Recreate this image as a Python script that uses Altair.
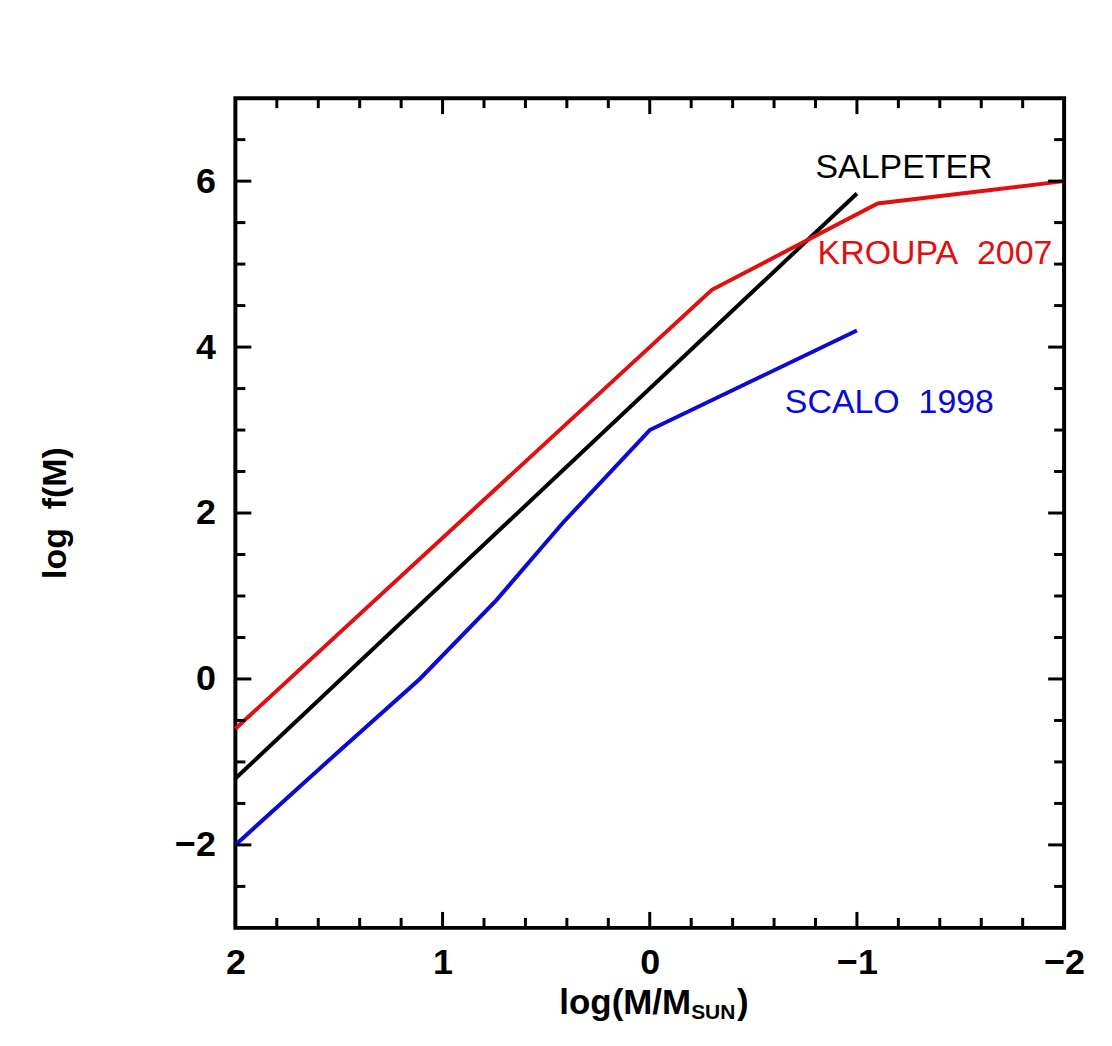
import altair as alt
import pandas as pd

# ---- data ----
salpeter_x = [2.0, -1.0]
salpeter_y = [-1.2, 5.85]

kroupa_x = [2.0, -0.3, -1.1, -2.0]
kroupa_y = [-0.6, 4.69, 5.73, 6.0]

scalo_x = [2.0, 1.5, 1.11, 0.74, 0.42, 0.0, -0.5, -1.0]
scalo_y = [-2.0, -0.87, 0.0, 0.95, 1.88, 3.0, 3.6, 4.2]

series_names = ["SALPETER", "KROUPA 2007", "SCALO 1998"]
series_colors = ["#000000", "#e01010", "#0a0ad0"]

label_text = ["SALPETER", "KROUPA\u00a0 2007", "SCALO\u00a0 1998"]
label_x = [-0.80, -0.81, -0.652]
label_y = [6.04, 5.0, 3.21]

x_labels = [2, 1, 0, -1, -2]
y_labels = [-2, 0, 2, 4, 6]
x_major = [1, 0, -1]
x_minor = [1.8, 1.6, 1.4, 1.2, 0.8, 0.6, 0.4, 0.2,
           -0.2, -0.4, -0.6, -0.8, -1.2, -1.4, -1.6, -1.8]
y_major = [-2, 0, 2, 4, 6]
y_minor = [-2.5, -1.5, -1, -0.5, 0.5, 1, 1.5, 2.5, 3, 3.5, 4.5, 5, 5.5, 6.5]

W, H = 831, 832
FONT = "Liberation Sans"

rows = []
for name, xs, ys in zip(series_names, [salpeter_x, kroupa_x, scalo_x],
                        [salpeter_y, kroupa_y, scalo_y]):
    for i, (a, b) in enumerate(zip(xs, ys)):
        rows.append({"series": name, "x": a, "y": b, "order": i})
lines_df = pd.DataFrame(rows)

xscale = alt.Scale(domain=[-2, 2], reverse=True, nice=False, zero=False)
yscale = alt.Scale(domain=[-3, 7], nice=False, zero=False)
cscale = alt.Scale(domain=series_names, range=series_colors)

xaxis = alt.Axis(values=x_labels, format="d", grid=False, ticks=False, domain=False,
                 labelFont=FONT, labelFontSize=36, labelFontWeight="bold",
                 labelColor="black", labelPadding=18, labelFlush=False,
                 labelOverlap=False, title=None)
yaxis = alt.Axis(values=y_labels, format="d", grid=False, ticks=False, domain=False,
                 labelFont=FONT, labelFontSize=36, labelFontWeight="bold",
                 labelColor="black", labelPadding=20, labelFlush=False,
                 labelOverlap=False, title=None)

lines = alt.Chart(lines_df).mark_line(strokeWidth=4).encode(
    x=alt.X("x:Q", scale=xscale, axis=xaxis),
    y=alt.Y("y:Q", scale=yscale, axis=yaxis),
    color=alt.Color("series:N", scale=cscale, legend=None),
    order="order:Q",
)

labels_df = pd.DataFrame({"t": label_text, "x": label_x, "y": label_y,
                          "series": series_names})
labels = alt.Chart(labels_df).mark_text(
    font=FONT, fontSize=34, align="left", baseline="alphabetic"
).encode(
    x=alt.X("x:Q", scale=xscale),
    y=alt.Y("y:Q", scale=yscale),
    text="t:N",
    color=alt.Color("series:N", scale=cscale, legend=None),
)

def xticks(vals, length):
    d = pd.DataFrame({"v": vals})
    bottom = alt.Chart(d).mark_rule(color="black", strokeWidth=3).encode(
        x=alt.X("v:Q", scale=xscale), y=alt.value(H), y2=alt.value(H - length))
    top = alt.Chart(d).mark_rule(color="black", strokeWidth=3).encode(
        x=alt.X("v:Q", scale=xscale), y=alt.value(0), y2=alt.value(length))
    return [bottom, top]

def yticks(vals, length):
    d = pd.DataFrame({"v": vals})
    left = alt.Chart(d).mark_rule(color="black", strokeWidth=3).encode(
        y=alt.Y("v:Q", scale=yscale), x=alt.value(0), x2=alt.value(length))
    right = alt.Chart(d).mark_rule(color="black", strokeWidth=3).encode(
        y=alt.Y("v:Q", scale=yscale), x=alt.value(W), x2=alt.value(W - length))
    return [left, right]

ticks = xticks(x_major, 16) + xticks(x_minor, 10) + yticks(y_major, 16) + yticks(y_minor, 10)

one = pd.DataFrame({"a": [0]})
xt1 = alt.Chart(one).mark_text(font=FONT, fontSize=35, fontWeight="bold",
                               align="right", baseline="alphabetic", text="log(M/M").encode(
    x=alt.value(457), y=alt.value(918))
xt2 = alt.Chart(one).mark_text(font=FONT, fontSize=21, fontWeight="bold",
                               align="left", baseline="alphabetic", text="SUN").encode(
    x=alt.value(457), y=alt.value(923))
xt3 = alt.Chart(one).mark_text(font=FONT, fontSize=35, fontWeight="bold",
                               align="left", baseline="alphabetic", text=")").encode(
    x=alt.value(503), y=alt.value(918))
yt = alt.Chart(one).mark_text(font=FONT, fontSize=34, fontWeight="bold",
                              align="center", baseline="middle", angle=270,
                              text="log\u00a0 f(M)").encode(
    x=alt.value(-180), y=alt.value(H / 2))

chart = alt.layer(lines, labels, *ticks, xt1, xt2, xt3, yt).properties(
    width=W, height=H,
    autosize=alt.AutoSizeParams(type="none"),
    padding={"left": 228, "top": 89, "right": 40, "bottom": 100},
    background="white",
).configure_view(stroke="black", strokeWidth=4)

chart.save("out.html", embed_options={"renderer": "svg", "actions": False})
